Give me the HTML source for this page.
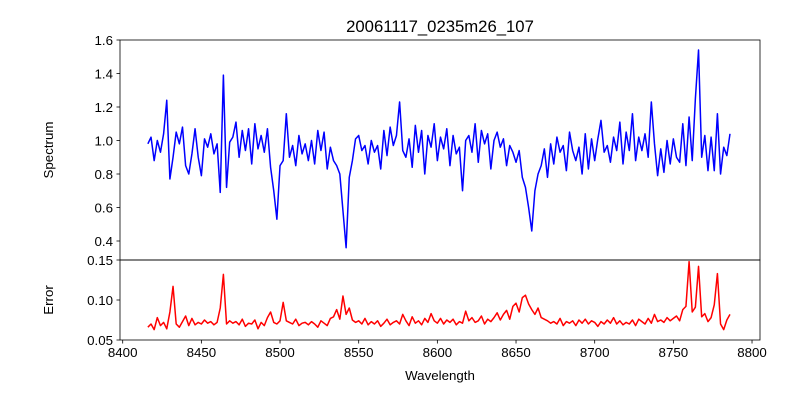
<!DOCTYPE html>
<html><head><meta charset="utf-8"><style>
html,body{margin:0;padding:0;background:#fff;}
svg{display:block;font-family:"Liberation Sans","DejaVu Sans",sans-serif;}
</style></head><body>
<svg id="chart" width="800" height="400" viewBox="0 0 800 400"></svg>
<script>
const wlStart = 8416;
const wlStep = 2;
const spectrum = [
0.98,1.02,0.88,1.00,0.93,1.04,1.24,0.77,0.90,1.05,
0.98,1.08,0.85,0.80,0.92,1.07,0.90,0.79,1.01,0.96,
1.04,0.92,0.98,0.69,1.39,0.72,0.99,1.02,1.11,0.90,
1.06,0.94,1.07,0.86,1.10,0.95,1.03,0.93,1.07,0.84,
0.70,0.53,0.85,0.88,1.16,0.90,0.97,0.85,1.03,0.92,
0.98,0.88,1.00,0.86,1.06,0.94,1.05,0.83,0.96,0.88,
0.85,0.80,0.58,0.36,0.78,0.88,1.01,1.03,0.94,0.97,
0.86,1.00,0.93,0.97,0.83,1.06,0.91,1.08,0.97,1.03,
1.23,0.94,0.90,1.01,0.84,1.09,0.93,1.06,0.80,1.03,
0.96,1.10,0.88,1.02,0.95,1.07,0.85,1.03,0.92,0.96,
0.70,1.00,1.03,0.93,1.10,0.87,1.06,0.98,1.04,0.83,
1.00,1.05,0.96,1.01,0.85,0.97,0.93,0.87,0.94,0.78,
0.72,0.60,0.46,0.70,0.80,0.85,0.95,0.78,0.98,0.86,
1.02,0.93,0.97,0.82,1.05,0.94,0.88,0.96,0.80,1.04,
0.83,1.01,0.88,1.01,1.12,0.93,0.97,0.87,1.02,0.94,
1.11,0.86,1.05,0.94,1.16,0.88,1.02,0.94,1.04,0.90,
1.23,0.98,0.79,0.95,0.81,1.00,0.86,1.01,0.90,0.87,
1.10,0.85,1.14,0.88,1.25,1.54,0.90,1.03,0.82,1.02,
0.82,1.16,0.80,0.96,0.91,1.04];
const errors = [
0.066,0.070,0.063,0.078,0.068,0.072,0.064,0.085,0.117,0.070,
0.066,0.073,0.080,0.068,0.077,0.069,0.072,0.070,0.075,0.071,
0.073,0.069,0.072,0.090,0.132,0.070,0.074,0.071,0.073,0.069,
0.076,0.067,0.071,0.070,0.075,0.064,0.072,0.068,0.078,0.085,
0.072,0.070,0.074,0.097,0.074,0.072,0.070,0.076,0.068,0.071,
0.072,0.069,0.073,0.070,0.066,0.074,0.071,0.068,0.077,0.079,
0.088,0.076,0.105,0.082,0.090,0.075,0.072,0.074,0.070,0.077,
0.069,0.073,0.070,0.074,0.067,0.071,0.076,0.069,0.072,0.074,
0.070,0.082,0.074,0.068,0.079,0.071,0.074,0.069,0.077,0.072,
0.083,0.074,0.071,0.077,0.070,0.075,0.072,0.076,0.069,0.073,
0.071,0.086,0.074,0.078,0.072,0.074,0.080,0.070,0.076,0.073,
0.078,0.084,0.075,0.082,0.087,0.076,0.092,0.096,0.085,0.103,
0.106,0.095,0.088,0.082,0.090,0.078,0.076,0.074,0.071,0.073,
0.070,0.077,0.068,0.073,0.071,0.074,0.068,0.075,0.071,0.076,
0.070,0.074,0.072,0.067,0.073,0.070,0.075,0.071,0.078,0.070,
0.074,0.069,0.072,0.070,0.075,0.068,0.076,0.073,0.070,0.077,
0.071,0.082,0.073,0.075,0.072,0.078,0.074,0.077,0.080,0.074,
0.088,0.092,0.148,0.085,0.091,0.142,0.079,0.083,0.073,0.078,
0.094,0.133,0.070,0.063,0.075,0.082];
const xTicks = [8400,8450,8500,8550,8600,8650,8700,8750,8800];
const specTicks = [0.4,0.6,0.8,1.0,1.2,1.4,1.6];
const errTicks = [0.05,0.10,0.15];

const NS = "http://www.w3.org/2000/svg";
const svg = document.getElementById('chart');
const L = 120, R = 760, T1 = 40, B1 = 260, T2 = 260, B2 = 340;
const X = w => 122.7 + (w - 8400) * 1.5733;
const Y1 = v => 40 + (1.6 - v) * 167.5;
const Y2 = v => 260 + (0.15 - v) * 800;

function mk(tag, attrs, parent) {
  const e = document.createElementNS(NS, tag);
  for (const k in attrs) e.setAttribute(k, attrs[k]);
  (parent || svg).appendChild(e);
  return e;
}
function txt(s, attrs) { const e = mk('text', attrs); e.textContent = s; return e; }

// series
let d1 = spectrum.map((v, i) => (i ? 'L' : 'M') + X(wlStart + i * wlStep).toFixed(2) + ',' + Y1(v).toFixed(2)).join('');
const p1 = mk('path', {d: d1, fill: 'none', stroke: '#0000ff', 'stroke-width': 1.5, 'stroke-linejoin': 'round'});


let d2 = errors.map((v, i) => (i ? 'L' : 'M') + X(wlStart + i * wlStep).toFixed(2) + ',' + Y2(v).toFixed(2)).join('');
const p2 = mk('path', {d: d2, fill: 'none', stroke: '#ff0000', 'stroke-width': 1.5, 'stroke-linejoin': 'round'});



// frames
const f1 = mk('rect', {x: L, y: T1, width: R - L, height: B1 - T1, fill: 'none', stroke: '#000', 'stroke-width': 0.8});


const f2 = mk('rect', {x: L, y: T2, width: R - L, height: B2 - T2, fill: 'none', stroke: '#000', 'stroke-width': 0.8});



// ticks
xTicks.forEach(t => {
  const x = X(t);
  mk('line', {x1: x, x2: x, y1: B2, y2: B2 + 3.5, stroke: '#000', 'stroke-width': 0.8});
  const lb = txt(String(t), {x: x, y: B2 + 17, 'font-size': 13.3, 'text-anchor': 'middle'});
  
  
});
specTicks.forEach(t => {
  const y = Y1(t);
  mk('line', {x1: L - 3.5, x2: L, y1: y, y2: y, stroke: '#000', 'stroke-width': 0.8});
  const lb = txt(t.toFixed(1), {x: L - 7, y: y + 4.8, 'font-size': 13.3, 'text-anchor': 'end'});
  
  
});
errTicks.forEach(t => {
  const y = Y2(t);
  mk('line', {x1: L - 3.5, x2: L, y1: y, y2: y, stroke: '#000', 'stroke-width': 0.8});
  const lb = txt(t.toFixed(2), {x: L - 7, y: y + 4.8, 'font-size': 13.3, 'text-anchor': 'end'});
  
  
});

const title = txt('20061117_0235m26_107', {x: 440, y: 32, 'font-size': 16.7, 'text-anchor': 'middle'});


const xl = txt('Wavelength', {x: 440, y: 380, 'font-size': 13.3, 'text-anchor': 'middle'});


const yl1 = txt('Spectrum', {x: 0, y: 0, 'font-size': 13.3, 'text-anchor': 'middle', transform: 'translate(53,150) rotate(-90)'});


const yl2 = txt('Error', {x: 0, y: 0, 'font-size': 13.3, 'text-anchor': 'middle', transform: 'translate(53,300) rotate(-90)'});


</script>
</body></html>
